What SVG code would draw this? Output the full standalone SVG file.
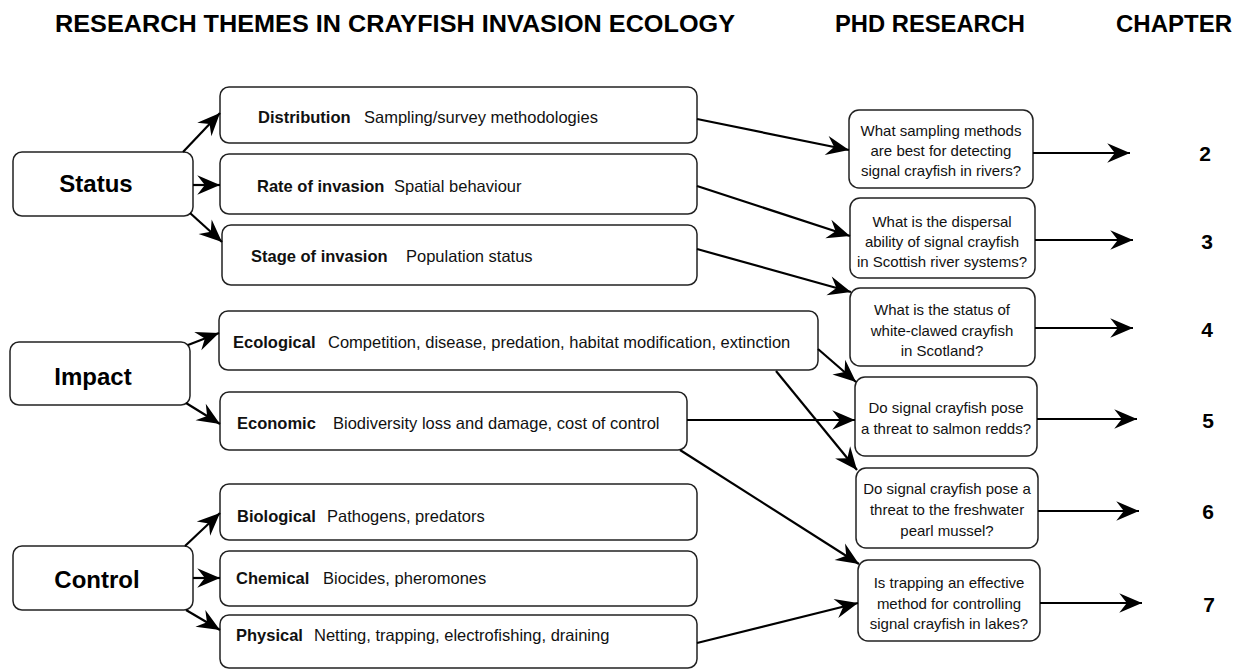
<svg xmlns="http://www.w3.org/2000/svg" width="1243" height="670" viewBox="0 0 1243 670">
<style>
.box{fill:#fff;stroke:#222;stroke-width:1.5}
.hd{font-family:"Liberation Sans",Arial,sans-serif;font-weight:bold;font-size:23px;fill:#000}
.big{font-family:"Liberation Sans",Arial,sans-serif;font-weight:bold;font-size:24px;fill:#000;text-anchor:middle}
.t{font-family:"Liberation Sans",Arial,sans-serif;font-size:16.5px;fill:#111}
.b{font-weight:bold}
.q{font-family:"Liberation Sans",Arial,sans-serif;font-size:15px;fill:#111;text-anchor:middle}
.num{font-family:"Liberation Sans",Arial,sans-serif;font-weight:bold;font-size:21px;fill:#000;text-anchor:middle}
.c{stroke:#000;stroke-width:2.2;fill:none;marker-end:url(#ah)}
</style>
<defs>
<marker id="ah" markerUnits="userSpaceOnUse" markerWidth="26" markerHeight="22" viewBox="-22 -10 24 20" refX="0" refY="0" orient="auto">
<path d="M0,0 L-21,-9 L-14,0 L-21,9 Z" fill="#000"/>
</marker>
</defs>
<rect width="1243" height="670" fill="#fff"/>
<g id="headers">
<text class="hd" x="55" y="32" textLength="680" lengthAdjust="spacingAndGlyphs">RESEARCH THEMES IN CRAYFISH INVASION ECOLOGY</text>
<text class="hd" x="835" y="32" textLength="190" lengthAdjust="spacingAndGlyphs">PHD RESEARCH</text>
<text class="hd" x="1116" y="32" textLength="116" lengthAdjust="spacingAndGlyphs">CHAPTER</text>
</g>
<g id="status"><rect class="box" x="13" y="152" width="180" height="64" rx="9"/><text class="big" x="96" y="192">Status</text></g>
<g id="impact"><rect class="box" x="10" y="342" width="180" height="63" rx="9"/><text class="big" x="93" y="385">Impact</text></g>
<g id="control"><rect class="box" x="13" y="546" width="180" height="64" rx="9"/><text class="big" x="97" y="588">Control</text></g>
<g id="distribution"><rect class="box" x="220" y="87" width="477" height="56" rx="9"/><text class="t" y="123"><tspan class="b" x="258">Distribution</tspan><tspan x="364">Sampling/survey methodologies</tspan></text></g>
<g id="rate"><rect class="box" x="220" y="154" width="477" height="60" rx="9"/><text class="t" y="192"><tspan class="b" x="257">Rate of invasion</tspan><tspan x="394">Spatial behaviour</tspan></text></g>
<g id="stage"><rect class="box" x="222" y="225" width="475" height="60" rx="9"/><text class="t" y="262"><tspan class="b" x="251">Stage of invasion</tspan><tspan x="406">Population status</tspan></text></g>
<g id="ecological"><rect class="box" x="219" y="311" width="599" height="59" rx="9"/><text class="t" y="348"><tspan class="b" x="233">Ecological</tspan><tspan x="328">Competition, disease, predation, habitat modification, extinction</tspan></text></g>
<g id="economic"><rect class="box" x="220" y="392" width="467" height="58" rx="9"/><text class="t" y="429"><tspan class="b" x="237">Economic</tspan><tspan x="333">Biodiversity loss and damage, cost of control</tspan></text></g>
<g id="biological"><rect class="box" x="220" y="484" width="477" height="56" rx="9"/><text class="t" y="522"><tspan class="b" x="237">Biological</tspan><tspan x="327">Pathogens, predators</tspan></text></g>
<g id="chemical"><rect class="box" x="220" y="551" width="477" height="55" rx="9"/><text class="t" y="584"><tspan class="b" x="236">Chemical</tspan><tspan x="323">Biocides, pheromones</tspan></text></g>
<g id="physical"><rect class="box" x="220" y="615" width="477" height="53" rx="9"/><text class="t" y="641"><tspan class="b" x="236">Physical</tspan><tspan x="314">Netting, trapping, electrofishing, draining</tspan></text></g>
<g id="q1"><rect class="box" x="849" y="110" width="184" height="78" rx="10"/><text class="q"><tspan x="941" y="136">What sampling methods</tspan><tspan x="941" y="156">are best for detecting</tspan><tspan x="941" y="176">signal crayfish in rivers?</tspan></text></g>
<g id="q2"><rect class="box" x="850" y="198" width="185" height="80" rx="10"/><text class="q"><tspan x="942" y="227">What is the dispersal</tspan><tspan x="942" y="247">ability of signal crayfish</tspan><tspan x="942" y="267">in Scottish river systems?</tspan></text></g>
<g id="q3"><rect class="box" x="850" y="288" width="185" height="78" rx="10"/><text class="q"><tspan x="942" y="315">What is the status of</tspan><tspan x="942" y="336">white-clawed crayfish</tspan><tspan x="942" y="356">in Scotland?</tspan></text></g>
<g id="q4"><rect class="box" x="855" y="377" width="182" height="79" rx="10"/><text class="q"><tspan x="946" y="413">Do signal crayfish pose</tspan><tspan x="946" y="434">a threat to salmon redds?</tspan></text></g>
<g id="q5"><rect class="box" x="856" y="468" width="182" height="80" rx="10"/><text class="q"><tspan x="947" y="494">Do signal crayfish pose a</tspan><tspan x="947" y="515">threat to the freshwater</tspan><tspan x="947" y="536">pearl mussel?</tspan></text></g>
<g id="q6"><rect class="box" x="858" y="560" width="182" height="81" rx="10"/><text class="q"><tspan x="949" y="588">Is trapping an effective</tspan><tspan x="949" y="609">method for controlling</tspan><tspan x="949" y="629">signal crayfish in lakes?</tspan></text></g>
<g id="chapters">
<text class="num" x="1205" y="161">2</text>
<text class="num" x="1207" y="249">3</text>
<text class="num" x="1207" y="337">4</text>
<text class="num" x="1208" y="428">5</text>
<text class="num" x="1208" y="519">6</text>
<text class="num" x="1209" y="612">7</text>
</g>
<g id="connectors">
<line class="c" x1="183" y1="152" x2="220" y2="113"/>
<line class="c" x1="193" y1="185" x2="220" y2="185"/>
<line class="c" x1="190" y1="213" x2="222" y2="242"/>
<line class="c" x1="188" y1="345" x2="219" y2="333"/>
<line class="c" x1="186" y1="403" x2="220" y2="424"/>
<line class="c" x1="185" y1="546" x2="220" y2="513"/>
<line class="c" x1="193" y1="578" x2="220" y2="578"/>
<line class="c" x1="186" y1="610" x2="220" y2="630"/>
<line class="c" x1="697" y1="119" x2="849" y2="150"/>
<line class="c" x1="697" y1="186" x2="850" y2="236"/>
<line class="c" x1="697" y1="249" x2="851" y2="292"/>
<line class="c" x1="818" y1="349" x2="856" y2="382"/>
<line class="c" x1="776" y1="371" x2="857" y2="470"/>
<line class="c" x1="687" y1="420" x2="855" y2="420"/>
<line class="c" x1="680" y1="450" x2="859" y2="564"/>
<line class="c" x1="697" y1="643" x2="858" y2="603"/>
<line class="c" x1="1033" y1="153" x2="1130" y2="153"/>
<line class="c" x1="1035" y1="240" x2="1133" y2="240"/>
<line class="c" x1="1035" y1="328" x2="1133" y2="328"/>
<line class="c" x1="1037" y1="419" x2="1137" y2="419"/>
<line class="c" x1="1038" y1="511" x2="1139" y2="511"/>
<line class="c" x1="1040" y1="603" x2="1142" y2="603"/>
</g>
</svg>
